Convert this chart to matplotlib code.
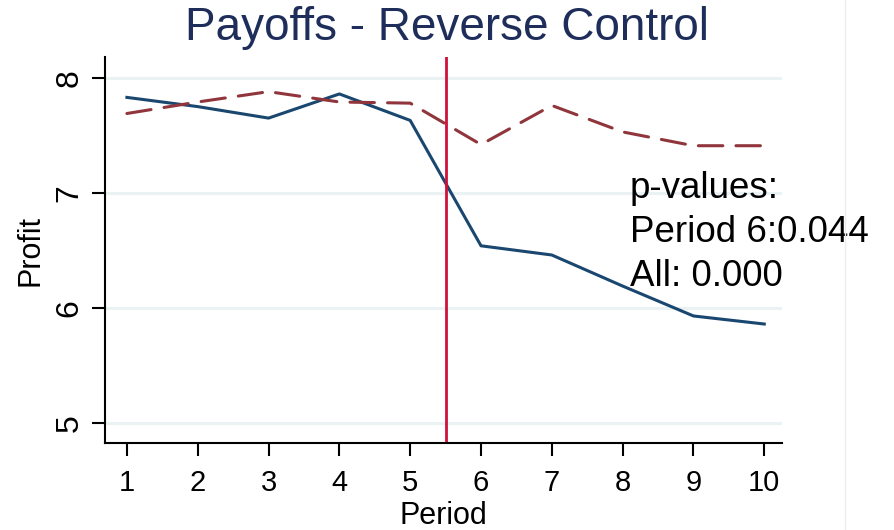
import matplotlib
matplotlib.use('Agg')
import matplotlib.pyplot as plt
from matplotlib.lines import Line2D

plt.rcParams['font.family'] = ['Liberation Sans', 'DejaVu Sans']
narrow = ['Liberation Sans Narrow', 'Liberation Sans', 'DejaVu Sans']

period = [1, 2, 3, 4, 5, 6, 7, 8, 9, 10]
treated = [7.83, 7.75, 7.65, 7.86, 7.63, 6.54, 6.46, 6.19, 5.93, 5.86]
control = [7.69, 7.79, 7.88, 7.79, 7.78, 7.42, 7.76, 7.53, 7.41, 7.41]
yticks = [5, 6, 7, 8]
pvals = "p-values:\nPeriod 6:0.044\nAll: 0.000"

fig = plt.figure(figsize=(8.94, 5.30), dpi=100)
ax = fig.add_axes([0.1174, 0.1642, 0.7573, 0.728])

for y in yticks:
    ax.axhline(y, color='#eaf2f3', lw=2.2, zorder=0)

ax.plot(period, treated, color='#1a476f', lw=2.2)
ax.plot(period, control, color='#90353b', lw=2.2, dashes=(8, 4.3),
        dash_capstyle='round')
ax.axvline(5.5, color='#d0103a', lw=2.0)

ax.set_xlim(0.69, 10.25)
ax.set_ylim(4.826, 8.18)
ax.set_xticks(period)
ax.set_yticks(yticks)
ax.tick_params(axis='both', length=9.5, width=1.5, direction='out')
ax.tick_params(axis='x', pad=9)
ax.tick_params(axis='y', pad=5)
for lab in ax.get_xticklabels() + ax.get_yticklabels():
    lab.set_fontfamily(narrow)
    lab.set_fontsize(21)
for lab in ax.get_yticklabels():
    lab.set_rotation(90)
    lab.set_va('center')
    lab.set_fontsize(23)
ax.spines['top'].set_visible(False)
ax.spines['right'].set_visible(False)
ax.spines['left'].set_linewidth(1.5)
ax.spines['bottom'].set_linewidth(1.5)

ax.set_xlabel('Period', fontsize=22, family=narrow, labelpad=3)
ax.set_ylabel('Profit', fontsize=22, family=narrow, labelpad=7)
fig.text(0.5, 0.947, 'Payoffs - Reverse Control', ha='center', va='center',
         fontsize=33, color='#1e2d5a')

ax.text(8.1, 7.19, pvals, fontsize=26.5, va='top', ha='left',
        linespacing=1.33, clip_on=False)

fig.add_artist(Line2D([845 / 894, 845 / 894], [0, 1], color='#eeeeee', lw=1))

fig.savefig('out.png', dpi=100)
